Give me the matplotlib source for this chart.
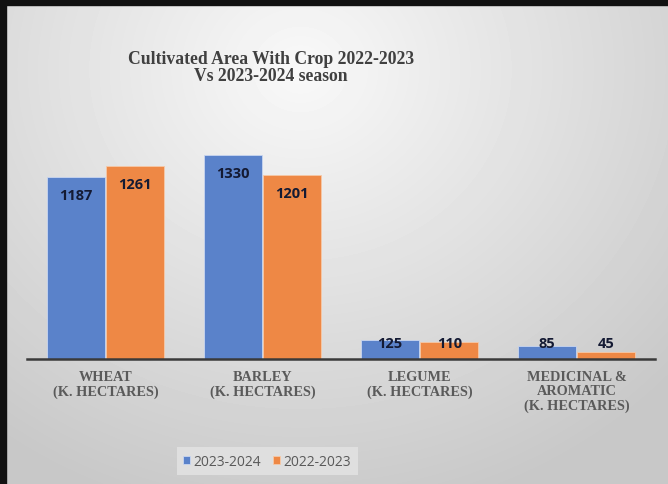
import numpy as np
import matplotlib
matplotlib.use("Agg")
import matplotlib.pyplot as plt
from matplotlib.patches import Rectangle

categories = ["WHEAT\n(K. HECTARES)", "BARLEY\n(K. HECTARES)", "LEGUME\n(K. HECTARES)",
              "MEDICINAL &\nAROMATIC\n(K. HECTARES)"]
season_2324 = [1187, 1330, 125, 85]
season_2223 = [1261, 1201, 110, 45]
series_names = ["2023-2024", "2022-2023"]

blue = "#5A82CA"
orange = "#EE8845"

fig = plt.figure(figsize=(6.68, 4.85), dpi=100)

# gray gradient background, lighter near the top centre
bg = fig.add_axes([0, 0, 1, 1], zorder=-10)
yy, xx = np.mgrid[0:485, 0:668]
r = np.sqrt(((xx - 300) / 420.0) ** 2 + ((yy - 70) / 380.0) ** 2)
shade = 0.975 - 0.16 * np.clip(r, 0, 1.2)
bg.imshow(shade, cmap="gray", vmin=0, vmax=1, aspect="auto", extent=[0, 1, 0, 1])
bg.set_axis_off()

# dark frame on top and left
fig.patches.append(Rectangle((0, 1 - 6 / 485), 1, 6 / 485, transform=fig.transFigure,
                             color="#111111", zorder=5))
fig.patches.append(Rectangle((0, 0), 6 / 668, 1, transform=fig.transFigure,
                             color="#111111", zorder=5))

ax = fig.add_axes([27 / 668, 125 / 485, 628 / 668, 220 / 485])
ax.patch.set_alpha(0)
x = np.arange(len(categories))
w = 0.37
b1 = ax.bar(x - w / 2 - 0.005, season_2324, w, color=blue, edgecolor="#c9d6f0", linewidth=0.6,
            label=series_names[0])
b2 = ax.bar(x + w / 2 + 0.005, season_2223, w, color=orange, edgecolor="#f6c9a8", linewidth=0.6,
            label=series_names[1])

for bars, vals in ((b1, season_2324), (b2, season_2223)):
    for bar, v in zip(bars, vals):
        ax.text(bar.get_x() + bar.get_width() / 2, max(v - 120, 105), str(v),
                ha="center", va="center", fontsize=10.5, fontweight="bold",
                family="Open Sans", color="#141a33")

ax.set_xlim(-0.5, 3.5)
ax.set_ylim(0, 1434)
for s in ["top", "right", "left"]:
    ax.spines[s].set_visible(False)
ax.spines["bottom"].set_color("#3a3a3a")
ax.spines["bottom"].set_linewidth(1.8)
ax.set_yticks([])
ax.set_xticks(x)
ax.set_xticklabels(categories, family="Liberation Serif", fontweight="bold",
                   fontsize=10.3, color="#5a5a5a", linespacing=1.1, va="top")
ax.tick_params(axis="x", length=0, pad=8)

fig.text(0.406, 0.86, "Cultivated Area With Crop 2022-2023\nVs 2023-2024 season",
         ha="center", va="center", family="Liberation Serif", fontweight="bold",
         fontsize=12.7, color="#404040", linespacing=1.0)

leg = fig.legend(handles=[b1, b2], labels=series_names, loc="center",
                 bbox_to_anchor=(0.40, 0.047), ncol=2, frameon=True,
                 fontsize=10, handlelength=0.5, handleheight=0.5, handletextpad=0.25,
                 columnspacing=0.9, borderpad=0.45, fancybox=False)
leg.get_frame().set_facecolor("#e4e4e4")
leg.get_frame().set_edgecolor("none")
for t in leg.get_texts():
    t.set_color("#595959")
    t.set_family("Open Sans")

fig.savefig("out.png", dpi=100)
